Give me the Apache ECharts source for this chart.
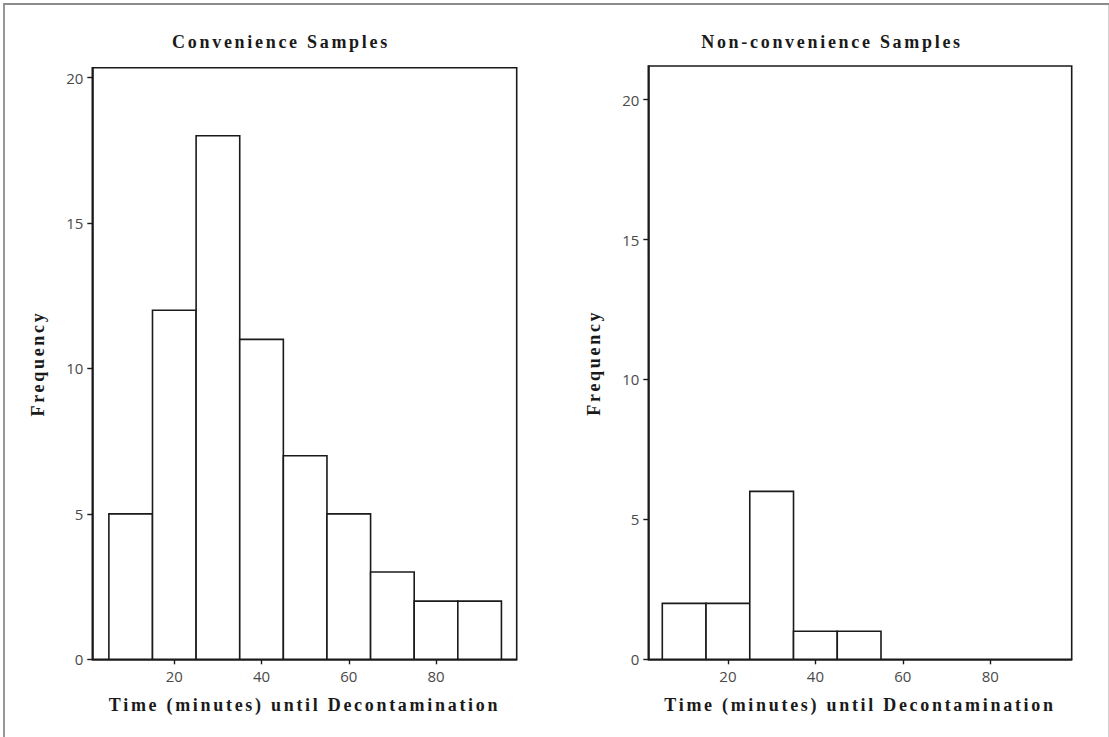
<!DOCTYPE html>
<html>
<head>
<meta charset="utf-8">
<title>Time until Decontamination</title>
<script src="https://cdn.jsdelivr.net/npm/echarts@6/dist/echarts.min.js"></script>
<style>
  html, body { margin: 0; padding: 0; background: #ffffff; }
  #chart { width: 1109px; height: 737px; }
  /* spaced-out bold serif lettering for titles and axis names */
  #chart svg text[style*="Liberation Serif"] { letter-spacing: 2.7px; }
</style>
</head>
<body>
<div id="chart"></div>
<script>
// Histogram bins (minutes): each bar covers [binStart, binEnd)
const binStarts = [5, 15, 25, 35, 45, 55, 65, 75, 85];
const binEnds   = [15, 25, 35, 45, 55, 65, 75, 85, 95];

// Frequencies per bin
const convenienceCounts    = [5, 12, 18, 11, 7, 5, 3, 2, 2];
const nonConvenienceCounts = [2, 2, 6, 1, 1, 0, 0, 0, 0];

// Axis tick values
const xTickValues = [20, 40, 60, 80];
const yTickValues = [0, 5, 10, 15, 20];

const panelTitles = ['Convenience Samples', 'Non-convenience Samples'];
const xAxisTitle = 'Time (minutes) until Decontamination';
const yAxisTitle = 'Frequency';

const serifBold = { fontFamily: 'Liberation Serif', fontWeight: 'bold', color: '#1a1a1a' };
const ink = '#1a1a1a';

function histData(counts) {
  return counts.map((c, i) => [binStarts[i], binEnds[i], c]);
}

function renderBar(params, api) {
  const count = api.value(2);
  if (!count) return null;
  const p0 = api.coord([api.value(0), count]);
  const p1 = api.coord([api.value(1), 0]);
  return {
    type: 'rect',
    shape: { x: p0[0], y: p0[1], width: p1[0] - p0[0], height: p1[1] - p0[1] },
    style: { fill: '#ffffff', stroke: ink, lineWidth: 1.6 }
  };
}

function xAxisFor(gridIndex, min, max) {
  return {
    type: 'value', gridIndex, min, max,
    name: xAxisTitle, nameLocation: 'middle', nameGap: 37,
    nameTextStyle: Object.assign({ fontSize: 18 }, serifBold),
    axisLine: { show: true, onZero: false, lineStyle: { color: ink, width: 1.6 } },
    axisTick: { show: true, inside: false, length: 5, customValues: xTickValues, lineStyle: { color: ink, width: 1.4 } },
    axisLabel: { customValues: xTickValues, margin: 9, fontFamily: 'Open Sans', fontSize: 15, color: '#4a4a4a' },
    splitLine: { show: false }
  };
}

function yAxisFor(gridIndex, max) {
  return {
    type: 'value', gridIndex, min: 0, max,
    name: yAxisTitle, nameLocation: 'middle', nameRotate: 90, nameGap: 45,
    nameTextStyle: Object.assign({ fontSize: 18 }, serifBold),
    axisLine: { show: true, onZero: false, lineStyle: { color: ink, width: 1.6 } },
    axisTick: { show: true, inside: false, length: 5, customValues: yTickValues, lineStyle: { color: ink, width: 1.4 } },
    axisLabel: { customValues: yTickValues, margin: 9, fontFamily: 'Open Sans', fontSize: 15, color: '#4a4a4a' },
    splitLine: { show: false }
  };
}

const chart = echarts.init(document.getElementById('chart'), null, { renderer: 'svg' });

chart.setOption({
  backgroundColor: '#ffffff',
  animation: false,
  title: [
    { text: panelTitles[0], left: 276, top: 28, textAlign: 'center',
      textStyle: Object.assign({ fontSize: 18 }, serifBold) },
    { text: panelTitles[1], left: 827, top: 28, textAlign: 'center',
      textStyle: Object.assign({ fontSize: 18 }, serifBold) }
  ],
  grid: [
    { left: 92.3, top: 67.7, width: 424.4, height: 591.6,
      show: true, borderColor: ink, borderWidth: 1.6, backgroundColor: 'transparent' },
    { left: 648.3, top: 66, width: 423.4, height: 593.3,
      show: true, borderColor: ink, borderWidth: 1.6, backgroundColor: 'transparent' }
  ],
  xAxis: [xAxisFor(0, 1.2, 98.5), xAxisFor(1, 1.8, 98.6)],
  yAxis: [yAxisFor(0, 20.34), yAxisFor(1, 21.2)],
  series: [
    { type: 'custom', name: panelTitles[0], xAxisIndex: 0, yAxisIndex: 0,
      renderItem: renderBar, encode: { x: [0, 1], y: 2 }, data: histData(convenienceCounts) },
    { type: 'custom', name: panelTitles[1], xAxisIndex: 1, yAxisIndex: 1,
      renderItem: renderBar, encode: { x: [0, 1], y: 2 }, data: histData(nonConvenienceCounts) }
  ],
  graphic: [
    { type: 'rect', left: 1.5, top: 1.5, silent: true,
      shape: { width: 1105.5, height: 734 },
      style: { fill: 'none', stroke: '#8c8c8c', lineWidth: 1.8 } }
  ]
});
</script>
</body>
</html>
